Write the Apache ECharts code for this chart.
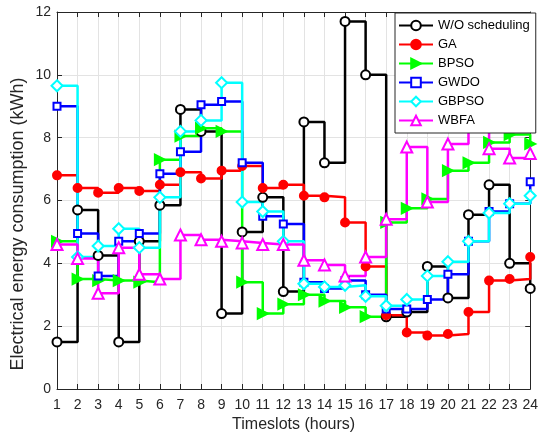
<!DOCTYPE html>
<html>
<head>
<meta charset="utf-8">
<script src="https://cdn.jsdelivr.net/npm/echarts@6/dist/echarts.min.js"></script>
<style>
  html, body { margin: 0; padding: 0; background: #fff; }
  #chart { width: 541px; height: 440px; }
</style>
</head>
<body>
<div id="chart"></div>
<script>
// Hourly timeslots
const hours = [1, 2, 3, 4, 5, 6, 7, 8, 9, 10, 11, 12, 13, 14, 15, 16, 17, 18, 19, 20, 21, 22, 23, 24];

// Electrical energy consumption per timeslot (kWh)
const woScheduling = [1.5, 5.7, 4.25, 1.5, 4.7, 5.85, 8.9, 8.2, 2.4, 5.0, 6.1, 3.1, 8.5, 7.2, 11.7, 10.0, 2.3, 2.45, 3.9, 2.9, 5.55, 6.5, 4.0, 3.2];
const ga = [6.8, 6.4, 6.25, 6.4, 6.3, 6.5, 6.9, 6.7, 6.95, 7.1, 6.4, 6.5, 6.15, 6.1, 5.3, 3.9, 2.35, 1.8, 1.7, 1.75, 2.45, 3.45, 3.5, 4.2];
const bpso = [4.7, 3.5, 3.45, 3.45, 3.4, 7.3, 8.05, 8.3, 8.2, 3.4, 2.4, 2.7, 3.0, 2.8, 2.6, 2.3, 5.3, 5.75, 6.05, 6.95, 7.2, 7.85, 8.1, 7.8];
const gwdo = [9.0, 4.95, 3.6, 4.7, 4.95, 6.85, 7.55, 9.05, 9.15, 7.2, 5.5, 5.25, 3.4, 3.2, 3.45, 3.0, 2.55, 2.55, 2.85, 3.65, 4.7, 5.65, 5.9, 6.6];
const gbpso = [9.65, 4.2, 4.55, 5.1, 4.5, 6.1, 8.2, 8.55, 9.75, 5.95, 5.65, 4.7, 3.35, 3.25, 3.3, 2.95, 2.65, 2.85, 3.6, 4.05, 4.7, 5.6, 5.9, 6.15];
const wbfa = [4.6, 4.15, 3.05, 4.5, 3.65, 3.5, 4.9, 4.75, 4.7, 4.65, 4.6, 4.6, 4.1, 3.95, 3.6, 4.2, 5.4, 7.7, 5.95, 7.8, 9.0, 7.65, 7.35, 7.5];

// Y axis ticks
const yTicks = [0, 2, 4, 6, 8, 10, 12];

const FONT = 'Liberation Sans, Arial, Helvetica, sans-serif';
const AXIS = '#262626';
const GRID = '#e3e3e3';

function pairs(values) {
  return hours.map((h, i) => [h, values[i]]);
}

function stairs(name, values, color, symbol, size, extra) {
  return Object.assign({
    name: name,
    type: 'line',
    step: 'end',
    data: pairs(values),
    symbol: symbol,
    symbolSize: size,
    showAllSymbol: true,
    color: color,
    lineStyle: { color: color, width: 2.5 },
    itemStyle: { color: color, borderColor: color, borderWidth: 2 },
    emphasis: { disabled: true },
    animation: false
  }, extra || {});
}

const chart = echarts.init(document.getElementById('chart'), null, { renderer: 'canvas' });

const tickLabel = { color: AXIS, fontFamily: FONT, fontSize: 14 };

chart.setOption({
  backgroundColor: '#fff',
  animation: false,
  textStyle: { fontFamily: FONT },
  grid: { left: 57, right: 7, top: 12, bottom: 51, containLabel: false },
  // Y axis title, placed as rotated text beside the axis
  graphic: [{
    type: 'text',
    x: 18,
    y: 224,
    rotation: Math.PI / 2,
    style: {
      text: 'Electrical energy consumption (kWh)',
      fill: AXIS,
      font: '18px ' + FONT,
      align: 'center',
      verticalAlign: 'middle'
    }
  }],
  legend: {
    orient: 'vertical',
    left: 395,
    top: 13,
    width: 139,
    padding: [6, 6, 6, 3],
    itemGap: 6,
    itemWidth: 34,
    itemHeight: 12,
    backgroundColor: '#fff',
    borderColor: AXIS,
    borderWidth: 1,
    borderRadius: 0,
    textStyle: { color: '#000', fontFamily: FONT, fontSize: 13 },
    data: ['W/O scheduling', 'GA', 'BPSO', 'GWDO', 'GBPSO', 'WBFA']
  },
  xAxis: [{
    type: 'value',
    min: 1,
    max: 24,
    interval: 1,
    name: 'Timeslots (hours)',
    nameLocation: 'middle',
    nameGap: 28,
    nameTextStyle: { color: AXIS, fontFamily: FONT, fontSize: 16 },
    axisLine: { onZero: false, lineStyle: { color: AXIS, width: 1 } },
    axisTick: { inside: true, length: 5, lineStyle: { color: AXIS } },
    axisLabel: Object.assign({ margin: 9 }, tickLabel),
    splitLine: { show: true, lineStyle: { color: GRID, width: 1 } }
  }, {
    type: 'value',
    position: 'top',
    min: 1,
    max: 24,
    interval: 1,
    axisLine: { onZero: false, lineStyle: { color: AXIS, width: 1 } },
    axisTick: { inside: true, length: 5, lineStyle: { color: AXIS } },
    axisLabel: { show: false },
    splitLine: { show: false }
  }],
  yAxis: [{
    type: 'value',
    min: yTicks[0],
    max: yTicks[yTicks.length - 1],
    interval: 2,
    axisLine: { show: true, onZero: false, lineStyle: { color: AXIS, width: 1 } },
    axisTick: { show: true, inside: true, length: 5, lineStyle: { color: AXIS } },
    axisLabel: Object.assign({ margin: 6 }, tickLabel),
    splitLine: { show: true, lineStyle: { color: GRID, width: 1 } }
  }, {
    type: 'value',
    position: 'right',
    min: yTicks[0],
    max: yTicks[yTicks.length - 1],
    interval: 2,
    axisLine: { show: true, onZero: false, lineStyle: { color: AXIS, width: 1 } },
    axisTick: { show: true, inside: true, length: 5, lineStyle: { color: AXIS } },
    axisLabel: { show: false },
    splitLine: { show: false }
  }],
  series: [
    stairs('W/O scheduling', woScheduling, '#000000', 'emptyCircle', 9),
    stairs('GA', ga, '#ff0000', 'circle', 8),
    stairs('BPSO', bpso, '#00ff00', 'triangle', 10, { symbolRotate: -90 }),
    stairs('GWDO', gwdo, '#0000ff', 'emptyRect', 7),
    stairs('GBPSO', gbpso, '#00ffff', 'emptyDiamond', 11),
    stairs('WBFA', wbfa, '#ff00ff', 'emptyTriangle', 11)
  ]
});
</script>
</body>
</html>
